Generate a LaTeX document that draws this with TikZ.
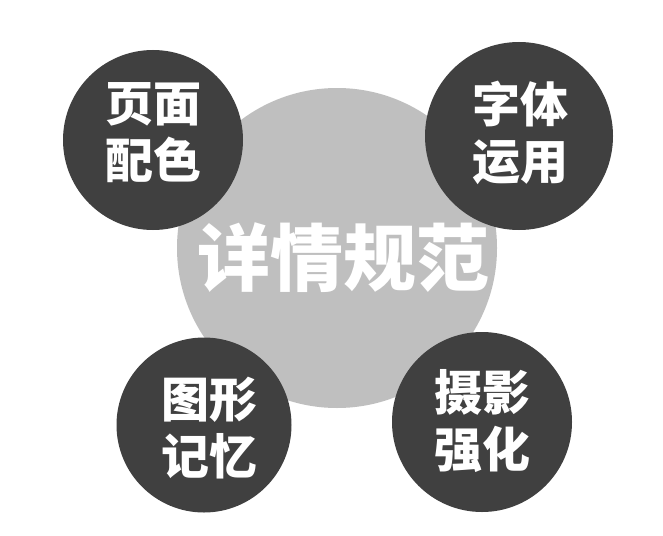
\documentclass[tikz,border=0pt]{standalone}
\usepackage{fontspec}
\newfontfamily\cjk{Noto Sans CJK SC}
\definecolor{darkc}{HTML}{404040}
\definecolor{grayc}{HTML}{BFBFBF}
\tikzset{
  bigcirc/.style={circle, fill=grayc, draw=none, inner sep=0pt, minimum size=320pt},
  darkcirc/.style={circle, fill=darkc, draw=none, inner sep=0pt, minimum size=180pt},
  smalltxt/.style={text=white, align=center, inner sep=0pt, font=\cjk\bfseries\fontsize{48}{57}\selectfont},
  bigtxt/.style={text=white, inner sep=0pt, font=\cjk\bfseries\fontsize{73}{80}\selectfont}
}
\begin{document}
\begin{tikzpicture}[x=1pt,y=-1pt]
\useasboundingbox[fill=white] (0,0) rectangle (663,535);
\node[bigcirc] (main) at (337,248) {};
\node[darkcirc] (c1) at (153,140) {};
\node[darkcirc, minimum size=188pt] (c2) at (519,136) {};
\node[darkcirc, minimum size=175pt] (c3) at (204,425) {};
\node[darkcirc] (c4) at (482,422) {};
\node[bigtxt] (mt) at (343,258) {详情规范};
\node[smalltxt] (t1) at (153,133) {页面\\配色};
\node[smalltxt] (t2) at (520,133) {字体\\运用};
\node[smalltxt] (t3) at (209,428) {图形\\记忆};
\node[smalltxt] (t4) at (482,421) {摄影\\强化};
\end{tikzpicture}
\end{document}
